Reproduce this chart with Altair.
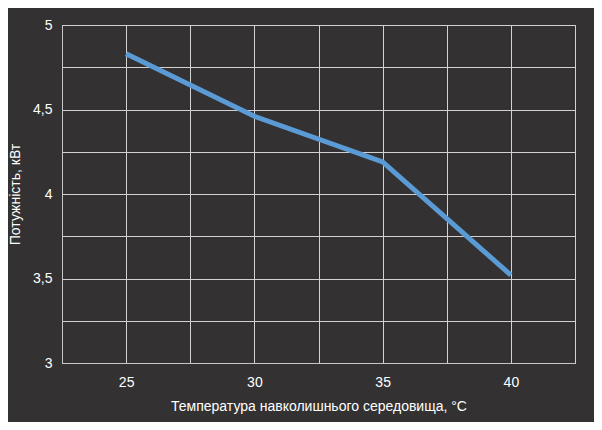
import altair as alt
import pandas as pd

temps = [25, 30, 35, 40]
power = [4.83, 4.46, 4.19, 3.52]

x_grid = [22.5, 25, 27.5, 30, 32.5, 35, 37.5, 40, 42.5]
y_grid = [3, 3.25, 3.5, 3.75, 4, 4.25, 4.5, 4.75, 5]

df = pd.DataFrame({"t": temps, "p": power})

BG = "#333132"
FONT = "Liberation Sans"

chart = alt.Chart(df).mark_line(color="#5b9bd5", strokeWidth=5).encode(
    x=alt.X("t:Q",
            scale=alt.Scale(domain=[22.5, 42.5], nice=False, zero=False),
            axis=alt.Axis(values=x_grid,
                          labelExpr="datum.value % 5 == 0 ? datum.label : ''",
                          title="Температура навколишнього середовища, °C",
                          ticks=False, labelPadding=12, titlePadding=10)),
    y=alt.Y("p:Q",
            scale=alt.Scale(domain=[3, 5], nice=False, zero=False),
            axis=alt.Axis(values=y_grid,
                          labelExpr="datum.value % 0.5 == 0 ? replace(format(datum.value, '~g'), '.', ',') : ''",
                          title="Потужність, кВт",
                          ticks=False, labelPadding=10, titlePadding=10)),
).properties(
    width=513, height=338,
    autosize=alt.AutoSizeParams(type="none"),
    padding={"left": 54, "top": 17, "right": 19, "bottom": 59},
    background=BG,
).configure_view(
    stroke="#c8c8c8", strokeWidth=1, fill=BG
).configure_axis(
    grid=True, gridColor="#d2d2d2", gridWidth=1, gridOpacity=1,
    domainColor="#c8c8c8", domainWidth=1,
    labelColor="#ffffff", labelFont=FONT, labelFontSize=14,
    titleColor="#ffffff", titleFont=FONT, titleFontSize=14, titleFontWeight="normal",
)

chart.save("out.html", embed_options={"renderer": "svg", "actions": False})
